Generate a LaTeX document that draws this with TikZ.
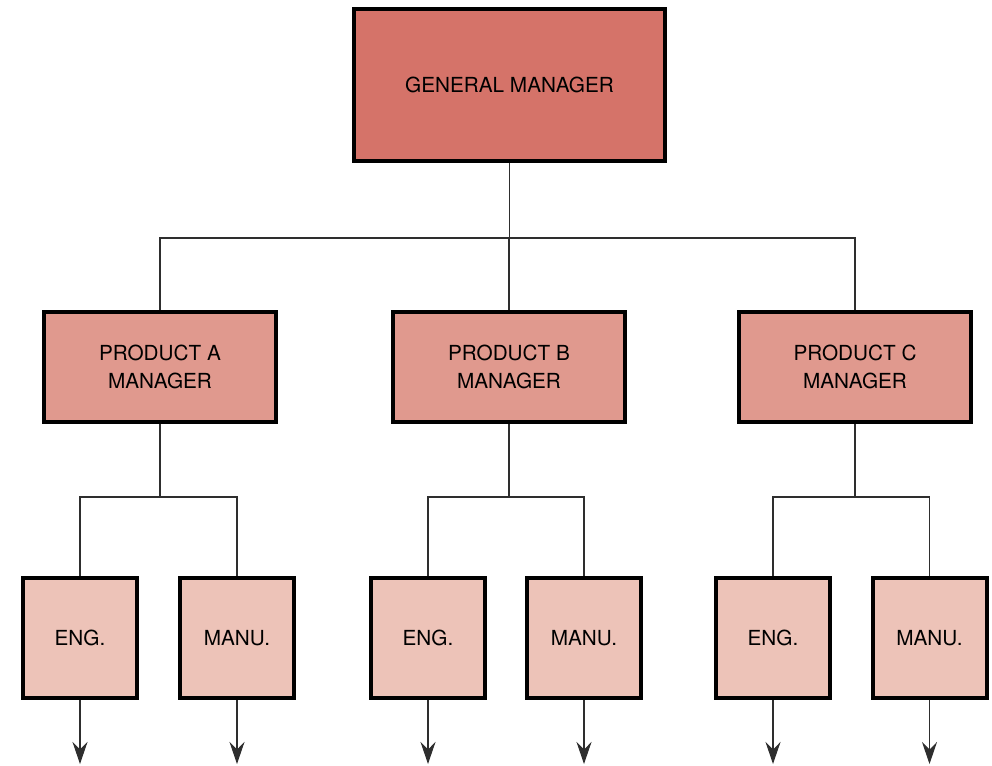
\documentclass[tikz,border=0pt]{standalone}
\usepackage{fontspec}
\setmainfont{TeX Gyre Heros}
\usetikzlibrary{arrows.meta,calc}

\definecolor{gmred}{HTML}{D57369}
\definecolor{pmred}{HTML}{E0998E}
\definecolor{unitred}{HTML}{EDC3B8}
\definecolor{linegray}{HTML}{2E2E2E}

\tikzset{
  orgbox/.style={draw=black, line width=0.08cm, align=center, inner sep=0pt,
    font=\fontsize{11.8}{16}\selectfont},
  gmbox/.style={orgbox, fill=gmred, minimum width=6.22cm, minimum height=3.04cm},
  pmbox/.style={orgbox, fill=pmred, minimum width=4.64cm, minimum height=2.2cm},
  unitbox/.style={orgbox, fill=unitred, minimum width=2.28cm, minimum height=2.4cm},
  wire/.style={draw=linegray, line width=0.6pt},
  outwire/.style={wire, -{Stealth[length=0.44cm, width=0.3cm, inset=0.15cm]}}
}

\begin{document}
\begin{tikzpicture}
\useasboundingbox (0,0) rectangle (19.84,15.3);

% top
\node [gmbox] (gm) at (10.19,13.6) {GENERAL MANAGER};

% product managers
\node [pmbox] (pa) at (3.2,7.96) {PRODUCT A\\MANAGER};
\node [pmbox] (pb) at (10.18,7.96) {PRODUCT B\\MANAGER};
\node [pmbox] (pc) at (17.1,7.96) {PRODUCT C\\MANAGER};

\coordinate (bus) at (10.19,10.54);
\draw [wire] (gm.south) -- (bus);
\draw [wire] (pa.north) |- (bus) -| (pc.north);
\draw [wire] (pb.north |- bus) -- (pb.north);

% engineering and manufacturing under each product
\foreach \p/\xe/\xm in {a/1.6/4.74, b/8.56/11.68, c/15.46/18.59} {
  \node [unitbox] (eng\p) at (\xe,2.54) {ENG.};
  \node [unitbox] (manu\p) at (\xm,2.54) {MANU.};
  \coordinate (sub\p) at ($(p\p.south)+(0,-1.46)$);
  \draw [wire] (p\p.south) -- (sub\p);
  \draw [wire] (eng\p.north) |- (sub\p) -| (manu\p.north);
  \coordinate (enge\p) at (\xe,0.02);
  \coordinate (manue\p) at (\xm,0.02);
  \draw [outwire] (eng\p.south) -- (enge\p);
  \draw [outwire] (manu\p.south) -- (manue\p);
}
\end{tikzpicture}
\end{document}
